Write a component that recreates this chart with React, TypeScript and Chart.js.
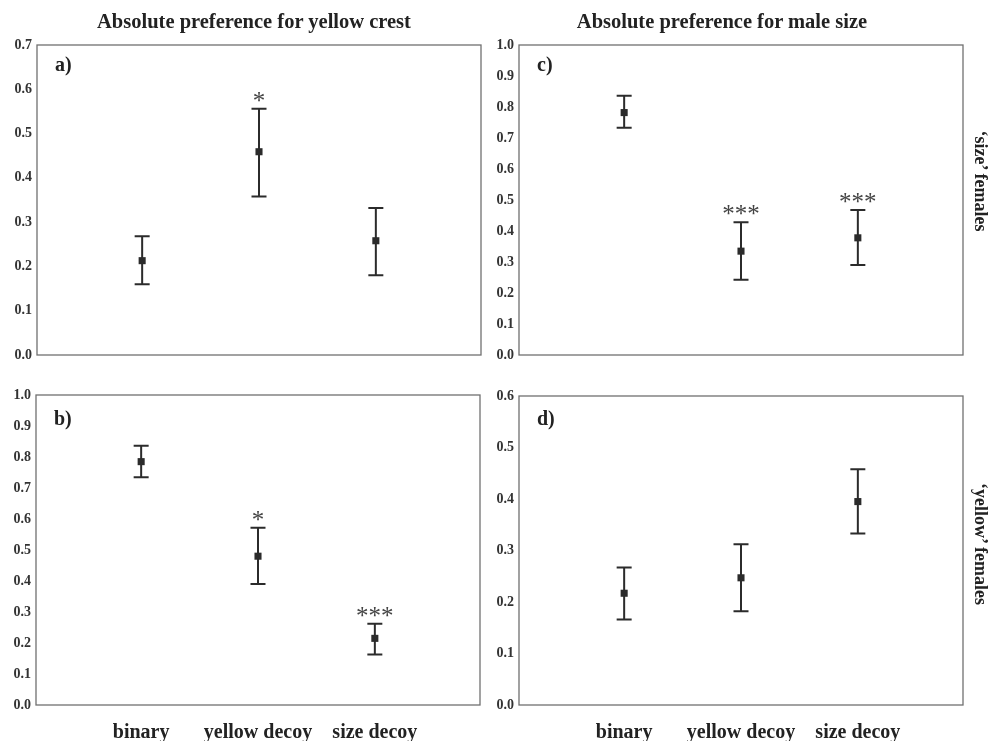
import React, { useEffect, useRef } from "react";
import { Chart, registerables } from "chart.js";
Chart.register(...registerables);

// ---------- data ----------
const categories = ["binary", "yellow decoy", "size decoy"];

// a) yellow crest, 'size' females
const meanA = [0.213, 0.459, 0.258];
const lowA = [0.160, 0.358, 0.180];
const highA = [0.268, 0.556, 0.332];
const sigA = ["", "*", ""];

// c) male size, 'size' females
const meanC = [0.782, 0.335, 0.378];
const lowC = [0.733, 0.243, 0.290];
const highC = [0.836, 0.428, 0.468];
const sigC = ["", "***", "***"];

// b) yellow crest, 'yellow' females
const meanB = [0.785, 0.480, 0.215];
const lowB = [0.735, 0.390, 0.163];
const highB = [0.836, 0.572, 0.262];
const sigB = ["", "*", "***"];

// d) male size, 'yellow' females
const meanD = [0.217, 0.247, 0.395];
const lowD = [0.166, 0.182, 0.333];
const highD = [0.267, 0.312, 0.458];
const sigD = ["", "", ""];

const colTitles = ["Absolute preference for yellow crest", "Absolute preference for male size"];
const rowTitles = ["\u2018size\u2019 females", "\u2018yellow\u2019 females"];

const SERIF = '"Liberation Serif", "Times New Roman", "DejaVu Serif", serif';
const INK = "#2b2b2b";

type PanelProps = {
  box: { left: number; top: number; width: number; height: number };
  plot: { left: number; top: number; right: number; bottom: number };
  mean: number[];
  low: number[];
  high: number[];
  sig: string[];
  yMax: number;
  letter: string;
  letterDy: number;
  showX: boolean;
};

function Panel(p: PanelProps) {
  const ref = useRef<HTMLCanvasElement>(null);
  useEffect(() => {
    const { box, plot } = p;
    const deco = {
      id: "deco",
      beforeDatasetsDraw(chart: any) {
        const ctx = chart.ctx;
        const a = chart.chartArea;
        const xs = chart.scales.x;
        const ys = chart.scales.y;
        ctx.save();
        // frame
        ctx.strokeStyle = "#707070";
        ctx.lineWidth = 1.3;
        ctx.strokeRect(a.left, a.top, a.right - a.left, a.bottom - a.top);
        // error bars
        ctx.strokeStyle = INK;
        ctx.lineWidth = 2;
        p.mean.forEach((_, i) => {
          const x = xs.getPixelForValue(i + 1);
          const yl = ys.getPixelForValue(p.low[i]);
          const yh = ys.getPixelForValue(p.high[i]);
          ctx.beginPath();
          ctx.moveTo(x, yl);
          ctx.lineTo(x, yh);
          ctx.moveTo(x - 7.5, yl);
          ctx.lineTo(x + 7.5, yl);
          ctx.moveTo(x - 7.5, yh);
          ctx.lineTo(x + 7.5, yh);
          ctx.stroke();
        });
        // significance
        ctx.fillStyle = "#444";
        ctx.font = `25px ${SERIF}`;
        ctx.textAlign = "center";
        ctx.textBaseline = "alphabetic";
        p.sig.forEach((s, i) => {
          if (!s) return;
          const x = xs.getPixelForValue(i + 1);
          const yh = ys.getPixelForValue(p.high[i]);
          ctx.fillText(s, x, yh);
        });
        // panel letter
        ctx.fillStyle = "#222";
        ctx.font = `bold 20px ${SERIF}`;
        ctx.textAlign = "left";
        ctx.textBaseline = "middle";
        ctx.fillText(p.letter, a.left + 18, a.top + p.letterDy);
        ctx.restore();
      },
    };
    const chart = new Chart(ref.current as HTMLCanvasElement, {
      type: "scatter",
      data: {
        datasets: [
          {
            data: p.mean.map((m, i) => ({ x: i + 1, y: m })),
            pointStyle: "rect",
            pointRadius: 5,
            backgroundColor: INK,
            borderWidth: 0,
          },
        ],
      },
      options: {
        animation: false,
        responsive: false,
        maintainAspectRatio: false,
        layout: {
          padding: {
            left: 0,
            top: plot.top - box.top,
            right: box.left + box.width - plot.right,
            bottom: p.showX ? 0 : box.top + box.height - plot.bottom,
          },
        },
        plugins: { legend: { display: false }, tooltip: { enabled: false } },
        scales: {
          x: {
            type: "linear",
            min: 0.1,
            max: 3.9,
            display: p.showX,
            grid: { display: false, drawTicks: false },
            border: { display: false },
            afterBuildTicks: (s: any) => {
              s.ticks = [1, 2, 3].map((v) => ({ value: v }));
            },
            afterFit: (s: any) => {
              s.height = p.showX ? box.top + box.height - plot.bottom : 0;
            },
            ticks: {
              autoSkip: false,
              maxRotation: 0,
              padding: 16,
              color: "#222",
              font: { family: SERIF, size: 20, weight: "bold" },
              callback: (v: any) => categories[Math.round(v) - 1] ?? "",
            },
          },
          y: {
            type: "linear",
            min: 0,
            max: p.yMax,
            grid: { display: false, drawTicks: false },
            border: { display: false },
            afterFit: (s: any) => {
              s.width = plot.left - box.left;
            },
            ticks: {
              stepSize: 0.1,
              padding: 5,
              color: "#333",
              font: { family: SERIF, size: 14, weight: "bold" },
              callback: (v: any) => Number(v).toFixed(1),
            },
          },
        },
      },
      plugins: [deco],
    } as any);
    return () => chart.destroy();
  }, []);
  return (
    <canvas
      ref={ref}
      width={p.box.width}
      height={p.box.height}
      style={{
        position: "absolute",
        left: p.box.left,
        top: p.box.top,
        width: p.box.width,
        height: p.box.height,
      }}
    />
  );
}

const textBase: React.CSSProperties = {
  position: "absolute",
  fontFamily: SERIF,
  fontWeight: "bold",
  color: "#222",
  whiteSpace: "nowrap",
  lineHeight: 1,
};

export default function App() {
  return (
    <div
      style={{
        position: "fixed",
        left: 0,
        top: 0,
        width: 998,
        height: 741,
        background: "#fff",
        overflow: "hidden",
      }}
    >
      <Panel
        box={{ left: 0, top: 0, width: 495, height: 370 }}
        plot={{ left: 37, top: 45, right: 481, bottom: 355 }}
        mean={meanA}
        low={lowA}
        high={highA}
        sig={sigA}
        yMax={0.7}
        letter="a)"
        letterDy={21}
        showX={false}
      />
      <Panel
        box={{ left: 495, top: 0, width: 503, height: 370 }}
        plot={{ left: 519, top: 45, right: 963, bottom: 355 }}
        mean={meanC}
        low={lowC}
        high={highC}
        sig={sigC}
        yMax={1.0}
        letter="c)"
        letterDy={21}
        showX={false}
      />
      <Panel
        box={{ left: 0, top: 370, width: 495, height: 371 }}
        plot={{ left: 36, top: 395, right: 480, bottom: 705 }}
        mean={meanB}
        low={lowB}
        high={highB}
        sig={sigB}
        yMax={1.0}
        letter="b)"
        letterDy={25}
        showX={true}
      />
      <Panel
        box={{ left: 495, top: 370, width: 503, height: 371 }}
        plot={{ left: 519, top: 396, right: 963, bottom: 705 }}
        mean={meanD}
        low={lowD}
        high={highD}
        sig={sigD}
        yMax={0.6}
        letter="d)"
        letterDy={24}
        showX={true}
      />
      <div style={{ ...textBase, fontSize: 20.5, left: 254, top: 21, transform: "translate(-50%,-50%)" }}>
        {colTitles[0]}
      </div>
      <div style={{ ...textBase, fontSize: 20.5, left: 722, top: 21, transform: "translate(-50%,-50%)" }}>
        {colTitles[1]}
      </div>
      <div
        style={{ ...textBase, fontSize: 18, left: 981, top: 181, transform: "translate(-50%,-50%) rotate(90deg)" }}
      >
        {rowTitles[0]}
      </div>
      <div
        style={{ ...textBase, fontSize: 18, left: 981, top: 544, transform: "translate(-50%,-50%) rotate(90deg)" }}
      >
        {rowTitles[1]}
      </div>
    </div>
  );
}
